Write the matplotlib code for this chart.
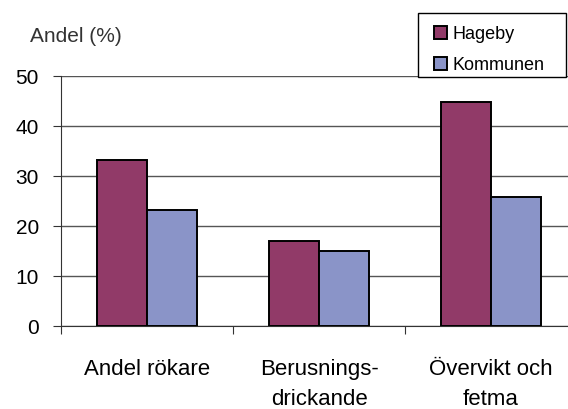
import matplotlib.pyplot as plt
from matplotlib.patches import Rectangle
import numpy as np

plt.rcParams['font.family'] = ['Liberation Sans', 'DejaVu Sans']

categories = ["Andel rökare", "Berusnings-\ndrickande", "Övervikt och\nfetma"]
hageby = [33.2, 17.0, 44.8]
kommunen = [23.2, 15.0, 25.8]
yticks = [0, 10, 20, 30, 40, 50]

fig = plt.figure(figsize=(5.68, 4.09), dpi=100)
ax = fig.add_axes([61 / 568, 83 / 409, 516 / 568, 250 / 409])

x = np.arange(len(categories)) + 0.5
w = 0.29
ax.bar(x - w / 2, hageby, w, color="#913A68", edgecolor="black", lw=1.4,
       label="Hageby", zorder=3)
ax.bar(x + w / 2, kommunen, w, color="#8A94C8", edgecolor="black", lw=1.4,
       label="Kommunen", zorder=3)

ax.set_xlim(0, 3)
ax.set_ylim(0, 50)
ax.set_yticks(yticks)
ax.yaxis.grid(True, color="#555555", lw=1, zorder=0)
ax.tick_params(axis="y", labelsize=15, length=6, color="#333333", pad=10)

ax.set_xticks([0, 1, 2, 3])
ax.set_xticklabels([])
ax.set_xticks(x, minor=True)
ax.set_xticklabels(categories, minor=True, fontsize=16, linespacing=1.55)
ax.tick_params(axis="x", which="major", length=6, color="#333333")
ax.tick_params(axis="x", which="minor", length=0, pad=24)

for s in ["top", "right"]:
    ax.spines[s].set_visible(False)
for s in ["left", "bottom"]:
    ax.spines[s].set_color("#333333")

fig.text(30 / 568, 1 - 36 / 409, "Andel (%)", fontsize=15, color="#333333",
         va="center", ha="left")

# legend frame drawn separately so the inner padding can be set freely
fig.patches.append(Rectangle((418 / 568, 1 - 77 / 409), 148 / 568, 64 / 409,
                             transform=fig.transFigure, facecolor="white",
                             edgecolor="black", lw=1, zorder=5))
leg = fig.legend(loc="upper left", bbox_to_anchor=(434 / 568, 1 - 26 / 409),
                 frameon=False, fontsize=13,
                 handlelength=0.7, handleheight=0.7, handletextpad=0.35,
                 borderpad=0, labelspacing=0.75, borderaxespad=0)
leg.set_zorder(6)

plt.savefig("out.png", dpi=100)
plt.close()
